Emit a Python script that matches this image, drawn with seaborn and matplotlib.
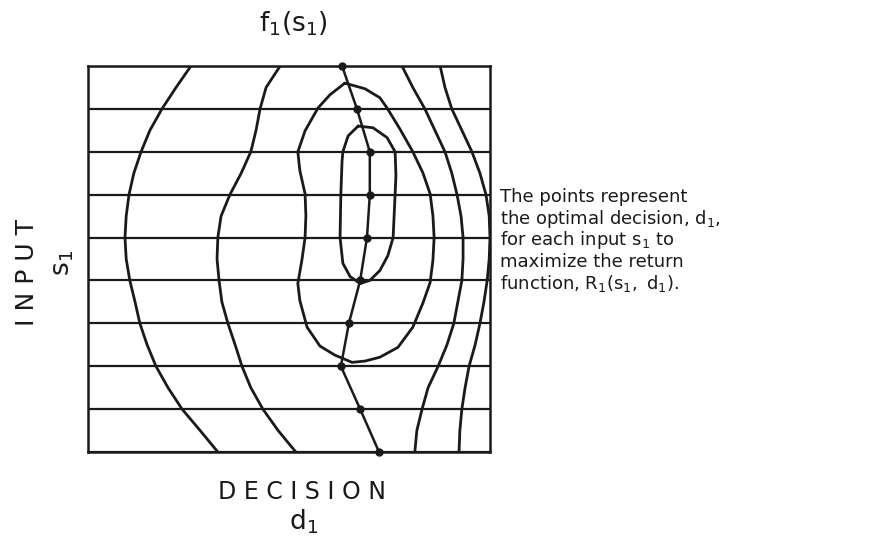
import matplotlib
matplotlib.use('Agg')
import matplotlib.pyplot as plt
import seaborn as sns

# Input levels (horizontal grid lines) and the optimal decision at each level
s_levels = [0, 1, 2, 3, 4, 5, 6, 7, 8, 9]
d_optimal = [7.24, 6.77, 6.29, 6.49, 6.77, 6.94, 7.01, 7.01, 6.69, 6.32]

# Open contours of R1(s1, d1): decision value read every half input level
s_half = [0, 0.5, 1, 1.5, 2, 2.5, 3, 3.5, 4, 4.5, 5, 5.5, 6, 6.5, 7, 7.5, 8, 8.5, 9]
curve1_d = [3.23, 2.79, 2.34, 1.99, 1.69, 1.47, 1.29, 1.17, 1.04, 0.95,
            0.92, 0.95, 1.02, 1.14, 1.32, 1.54, 1.84, 2.19, 2.56]
curve2_d = [5.17, 4.73, 4.35, 4.05, 3.83, 3.66, 3.48, 3.33, 3.26, 3.21,
            3.23, 3.31, 3.53, 3.81, 4.05, 4.18, 4.28, 4.43, 4.78]
curve3_d = [8.13, 8.18, 8.31, 8.46, 8.71, 8.93, 9.10, 9.20, 9.30, 9.33,
            9.33, 9.28, 9.18, 9.05, 8.88, 8.63, 8.38, 8.08, 7.81]
curve4_d = [9.23, 9.25, 9.30, 9.38, 9.48, 9.63, 9.75, 9.85, 9.93, 9.98,
            10.0, 9.98, 9.90, 9.75, 9.55, 9.30, 9.05, 8.88, 8.76]

# Closed contours around the maximum
outer_d = [6.39, 6.89, 7.26, 7.44, 7.76, 8.08, 8.33, 8.51, 8.58, 8.61, 8.58, 8.51,
           8.33, 8.08, 7.71, 7.26, 6.89, 6.57, 6.14, 5.77, 5.45, 5.27, 5.22,
           5.32, 5.40, 5.42, 5.40, 5.27, 5.22, 5.40, 5.72, 6.02, 6.39]
outer_s = [8.60, 8.47, 8.26, 8.02, 7.53, 7.00, 6.51, 6.02, 5.51, 5.00, 4.47, 3.95,
           3.47, 2.91, 2.44, 2.21, 2.12, 2.09, 2.26, 2.47, 2.91, 3.53, 3.93,
           4.47, 5.00, 5.51, 6.02, 6.56, 7.00, 7.49, 8.02, 8.33, 8.60]
inner_d = [6.72, 7.09, 7.44, 7.64, 7.66, 7.64, 7.59, 7.46, 7.26, 7.01, 6.77, 6.52,
           6.34, 6.27, 6.29, 6.32, 6.34, 6.47, 6.72]
inner_s = [7.60, 7.56, 7.33, 7.00, 6.44, 6.02, 5.00, 4.58, 4.23, 4.00, 3.93, 4.09,
           4.40, 5.00, 6.02, 6.79, 7.00, 7.37, 7.60]

sns.set_style('white')
plt.rcParams['font.family'] = ['DejaVu Sans']

fig = plt.figure(figsize=(8.77, 5.46), dpi=100)
ax = fig.add_axes([88 / 877, 94 / 546, 402 / 877, 386 / 546])

ink = '#1a1a1a'

# Horizontal input lines
for s in s_levels:
    ax.axhline(s, color=ink, lw=1.6, zorder=1)

# Contours
for cd in [curve1_d, curve2_d, curve3_d, curve4_d]:
    sns.lineplot(x=cd, y=s_half, sort=False, estimator=None, color=ink, lw=2.0, ax=ax)
sns.lineplot(x=outer_d, y=outer_s, sort=False, estimator=None, color=ink, lw=2.0, ax=ax)
sns.lineplot(x=inner_d, y=inner_s, sort=False, estimator=None, color=ink, lw=2.0, ax=ax)

# Optimal decisions f1(s1)
sns.lineplot(x=d_optimal, y=s_levels, sort=False, estimator=None, color=ink, lw=1.8,
             marker='o', markersize=6, markeredgewidth=0, clip_on=False, ax=ax)

ax.set_xlim(0, 10)
ax.set_ylim(0, 9)
ax.set_xticks([])
ax.set_yticks([])
ax.set_xlabel('')
ax.set_ylabel('')
for sp in ax.spines.values():
    sp.set_visible(True)
    sp.set_color(ink)
    sp.set_linewidth(1.8)

# Labels
fig.text(293 / 877, 1 - 24 / 546, r'$\mathregular{f_1(s_1)}$', ha='center', va='center',
         fontsize=19, color=ink)
fig.text(302 / 877, 1 - 492 / 546, 'D E C I S I O N', ha='center', va='center',
         fontsize=17, color=ink)
fig.text(304 / 877, 1 - 522 / 546, r'$\mathregular{d_1}$', ha='center', va='center',
         fontsize=19, color=ink)
fig.text(27 / 877, 1 - 273 / 546, 'I N P U T', ha='center', va='center', rotation=90,
         fontsize=18, color=ink)
fig.text(63 / 877, 1 - 263 / 546, r'$\mathregular{s_1}$', ha='center', va='center',
         rotation=90, fontsize=19, color=ink)

note = ['The points represent',
        r'the optimal decision, $\mathregular{d_1}$,',
        r'for each input $\mathregular{s_1}$ to',
        'maximize the return',
        r'function, $\mathregular{R_1(s_1,\ d_1)}$.']
for i, line in enumerate(note):
    fig.text(500 / 877, 1 - (197 + 21.7 * i) / 546, line, ha='left', va='center',
             fontsize=13, color=ink)

fig.savefig('out.png', dpi=100)
